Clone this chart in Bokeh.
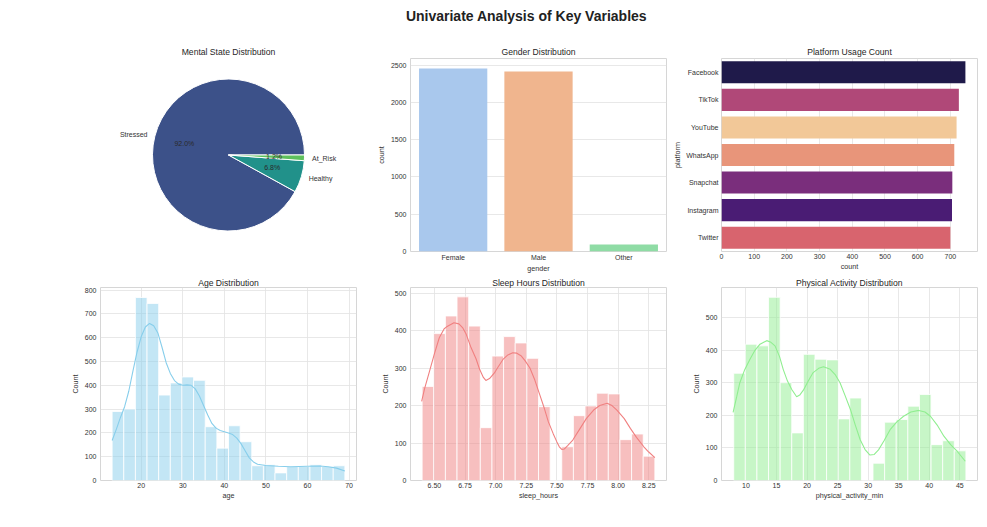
import numpy as np
from bokeh.plotting import figure
from bokeh.layouts import column, row
from bokeh.models import FactorRange, Range1d, FixedTicker, PrintfTickFormatter
from bokeh.embed import file_html
from bokeh.resources import INLINE
from bokeh.core.properties import value

FONT = "Liberation Sans"

suptitle = "Univariate Analysis of Key Variables"

# ---- data ----
mental_labels = ["Stressed", "Healthy", "At_Risk"]
mental_pct = [92.0, 6.8, 1.2]
mental_colors = ["#3c5189", "#21918a", "#5ec05c"]

gender_labels = ["Female", "Male", "Other"]
gender_counts = [2455, 2415, 94]
gender_colors = ["#a9c8ed", "#f0b58e", "#8fdca5"]

platform_labels = ["Facebook", "TikTok", "YouTube", "WhatsApp", "Snapchat", "Instagram", "Twitter"]
platform_counts = [746, 726, 719, 712, 706, 705, 700]
platform_colors = ["#1f1a4a", "#b04878", "#f2c898", "#e8957a", "#7a2e7c", "#4a1c74", "#d8646e"]

age_min, age_max = 13, 69
age_counts = [290, 300, 769, 744, 359, 410, 435, 421, 226, 136, 230, 163, 62, 66, 32, 59, 59, 66, 59, 62]
age_kde_x = [13, 14, 15, 16, 17, 18, 19, 20, 21, 22, 23, 24, 25, 26, 27, 28, 29, 30, 31, 32, 33, 34, 35,
             36, 37, 38, 39, 40, 41, 42, 43, 44, 45, 46, 47, 48, 50, 53, 56, 60, 63, 65, 67, 69]
age_kde_y = [168, 215, 265, 310, 375, 460, 540, 605, 645, 660, 650, 620, 560, 495, 450, 420, 405, 400, 402,
             400, 385, 355, 315, 275, 240, 220, 210, 205, 200, 193, 178, 155, 125, 95, 78, 68, 63, 60, 58,
             60, 61, 58, 52, 40]

sleep_min, sleep_max = 6.4, 8.3
sleep_counts = [251, 392, 439, 490, 412, 141, 332, 384, 367, 326, 197, 0, 90, 173, 199, 233, 231, 109, 124, 65]
sleep_kde_x = [6.396, 6.42, 6.46, 6.50, 6.54, 6.58, 6.60, 6.66, 6.70, 6.73, 6.76, 6.80, 6.84, 6.87, 6.90,
               6.92, 6.95, 6.99, 7.02, 7.06, 7.10, 7.14, 7.17, 7.21, 7.24, 7.28, 7.32, 7.36, 7.40, 7.43,
               7.47, 7.50, 7.52, 7.54, 7.56, 7.59, 7.63, 7.69, 7.74, 7.80, 7.85, 7.91, 7.95, 7.99, 8.05,
               8.10, 8.15, 8.21, 8.25, 8.30]
sleep_kde_y = [211, 245, 291, 338, 381, 405, 410, 421, 418, 408, 390, 354, 325, 296, 275, 267, 272, 287,
               303, 323, 335, 341, 340, 332, 320, 300, 268, 229, 190, 157, 125, 103, 90, 83, 84, 94, 108,
               139, 165, 188, 200, 206, 200, 188, 165, 139, 115, 90, 76, 61]

phys_min, phys_max = 8, 46
phys_counts = [329, 418, 413, 562, 300, 146, 387, 372, 370, 189, 253, 0, 53, 179, 187, 228, 264, 110, 122, 91]
phys_kde_x = [7.9, 8.5, 9.0, 9.8, 10.66, 11.5, 12.3, 13.4, 14.0, 14.76, 15.5, 16.1, 16.8, 17.5, 18.3, 18.8,
              19.4, 20.2, 21.0, 21.9, 22.7, 23.8, 24.6, 25.4, 26.2, 27.1, 27.9, 28.7, 29.5, 30.3, 31.0,
              31.7, 32.6, 33.6, 34.7, 35.8, 37.0, 38.3, 39.3, 40.2, 41.3, 42.4, 43.5, 44.6, 45.9]
phys_kde_y = [209, 258, 300, 340, 372, 400, 418, 429, 425, 413, 380, 341, 305, 279, 257, 262, 277, 305,
              331, 344, 349, 341, 325, 300, 262, 218, 170, 125, 95, 78, 80, 94, 122, 156, 180, 197, 210,
              215, 210, 197, 170, 136, 110, 89, 59]

FW, FH = 256, 193


def style(p, title, standoff):
    p.title.text = title
    p.title.text_font = FONT
    p.title.text_font_size = "8.6px"
    p.title.text_font_style = "normal"
    p.title.text_color = "#262626"
    p.title.align = "center"
    p.title.standoff = standoff
    p.outline_line_color = "#d6d6d6"
    p.background_fill_color = "white"
    p.border_fill_color = "white"
    for ax in p.axis:
        ax.axis_line_color = None
        ax.major_tick_line_color = None
        ax.minor_tick_line_color = None
        ax.major_tick_out = 0
        ax.major_tick_in = 0
        ax.minor_tick_out = 0
        ax.minor_tick_in = 0
        ax.major_label_text_font = FONT
        ax.major_label_text_font_size = "7px"
        ax.major_label_text_color = "#333333"
        ax.axis_label_text_font = FONT
        ax.axis_label_text_font_size = "7.2px"
        ax.axis_label_text_font_style = "normal"
        ax.axis_label_text_color = "#333333"
        ax.major_label_standoff = 4
        ax.axis_label_standoff = 2
    p.xaxis.major_label_standoff = 2
    p.xaxis.axis_label_standoff = 0
    p.grid.grid_line_color = "#e2e2e2"
    p.grid.grid_line_width = 0.8


def mk(**kw):
    return figure(frame_width=FW, frame_height=FH, output_backend="svg", toolbar_location=None, **kw)


# ---- title ----
tf = figure(width=987, height=28, x_range=(0, 987), y_range=(0, 28), output_backend="svg",
            toolbar_location=None, min_border=0)
tf.axis.visible = False
tf.grid.visible = False
tf.outline_line_color = None
tf.text(x=[526], y=[13], text=[suptitle], text_align="center", text_baseline="middle",
        text_font=value(FONT), text_font_size="14px", text_font_style="bold", text_color="#222222")

# ---- pie ----
pie = mk(x_range=Range1d(-1.684, 1.684), y_range=Range1d(-1.27, 1.27),
         min_border_left=100, min_border_right=14, min_border_top=30, min_border_bottom=22)
style(pie, "Mental State Distribution", 4)
pie.axis.visible = False
pie.grid.visible = False
pie.outline_line_color = None
frac = np.array(mental_pct) / np.sum(mental_pct)
ends = np.cumsum(frac) * 2 * np.pi
starts = ends - frac * 2 * np.pi
pie.wedge(x=0, y=0, radius=1, start_angle=starts, end_angle=ends, fill_color=mental_colors,
          line_color="white", line_width=1)
mids = (starts + ends) / 2
lx, ly = 1.1 * np.cos(mids), 1.1 * np.sin(mids)
aligns = ["right" if v < 0 else "left" for v in lx]
pie.text(x=lx, y=ly, text=mental_labels, text_align=aligns, text_baseline="middle",
         text_font=value(FONT), text_font_size="7px", text_color="#333333")
px, py = 0.6 * np.cos(mids), 0.6 * np.sin(mids)
pie.text(x=px, y=py, text=[f"{v:.1f}%" for v in mental_pct], text_align="center", text_baseline="middle",
         text_font=value(FONT), text_font_size="7px", text_color="#2a2a2a")

# ---- gender ----
gen = mk(x_range=FactorRange(*gender_labels), y_range=Range1d(0, 2590),
         min_border_left=40, min_border_right=4, min_border_top=30, min_border_bottom=22)
gen.vbar(x=gender_labels, top=gender_counts, width=0.8, fill_color=gender_colors, line_color=None)
style(gen, "Gender Distribution", 4)
gen.xgrid.visible = False
gen.yaxis.ticker = FixedTicker(ticks=[0, 500, 1000, 1500, 2000, 2500])
gen.xaxis.axis_label = "gender"
gen.yaxis.axis_label = "count"

# ---- platform ----
plat = mk(y_range=FactorRange(*platform_labels[::-1]), x_range=Range1d(0, 783),
          min_border_left=51, min_border_right=10, min_border_top=30, min_border_bottom=22)
plat.hbar(y=platform_labels, right=platform_counts, height=0.8, fill_color=platform_colors, line_color=None)
style(plat, "Platform Usage Count", 4)
plat.ygrid.visible = False
plat.xaxis.ticker = FixedTicker(ticks=list(range(0, 800, 100)))
plat.xaxis.axis_label = "count"
plat.yaxis.axis_label = "platform"
plat.yaxis.axis_label_standoff = 1
plat.yaxis.major_label_standoff = 3


def hist(fig, lo, hi, counts, kx, ky, color):
    edges = np.linspace(lo, hi, len(counts) + 1)
    fig.quad(left=edges[:-1], right=edges[1:], bottom=0, top=counts, fill_color=color, fill_alpha=0.5,
             line_color="white", line_width=0.8)
    fig.line(kx, ky, line_color=color, line_width=1.1)


age = mk(x_range=Range1d(10.2, 71.8), y_range=Range1d(0, 811),
         min_border_left=100, min_border_right=14, min_border_top=10, min_border_bottom=26)
hist(age, age_min, age_max, age_counts, age_kde_x, age_kde_y, "#87ceeb")
style(age, "Age Distribution", 0)
age.xaxis.ticker = FixedTicker(ticks=[20, 30, 40, 50, 60, 70])
age.yaxis.ticker = FixedTicker(ticks=list(range(0, 900, 100)))
age.xaxis.axis_label = "age"
age.yaxis.axis_label = "Count"

slp = mk(x_range=Range1d(6.305, 8.395), y_range=Range1d(0, 515),
         min_border_left=40, min_border_right=4, min_border_top=10, min_border_bottom=26)
hist(slp, sleep_min, sleep_max, sleep_counts, sleep_kde_x, sleep_kde_y, "#f08080")
style(slp, "Sleep Hours Distribution", 0)
slp.xaxis.ticker = FixedTicker(ticks=[6.5, 6.75, 7.0, 7.25, 7.5, 7.75, 8.0, 8.25])
slp.xaxis.formatter = PrintfTickFormatter(format="%.2f")
slp.yaxis.ticker = FixedTicker(ticks=list(range(0, 600, 100)))
slp.xaxis.axis_label = "sleep_hours"
slp.yaxis.axis_label = "Count"

phy = mk(x_range=Range1d(6.0, 47.9), y_range=Range1d(0, 592),
         min_border_left=51, min_border_right=10, min_border_top=10, min_border_bottom=26)
hist(phy, phys_min, phys_max, phys_counts, phys_kde_x, phys_kde_y, "#90ee90")
style(phy, "Physical Activity Distribution", 0)
phy.xaxis.ticker = FixedTicker(ticks=[10, 15, 20, 25, 30, 35, 40, 45])
phy.yaxis.ticker = FixedTicker(ticks=list(range(0, 600, 100)))
phy.xaxis.axis_label = "physical_activity_min"
phy.yaxis.axis_label = "Count"

layout = column(tf, row(pie, gen, plat), row(age, slp, phy))
open("out.html", "w").write(file_html(layout, INLINE))
